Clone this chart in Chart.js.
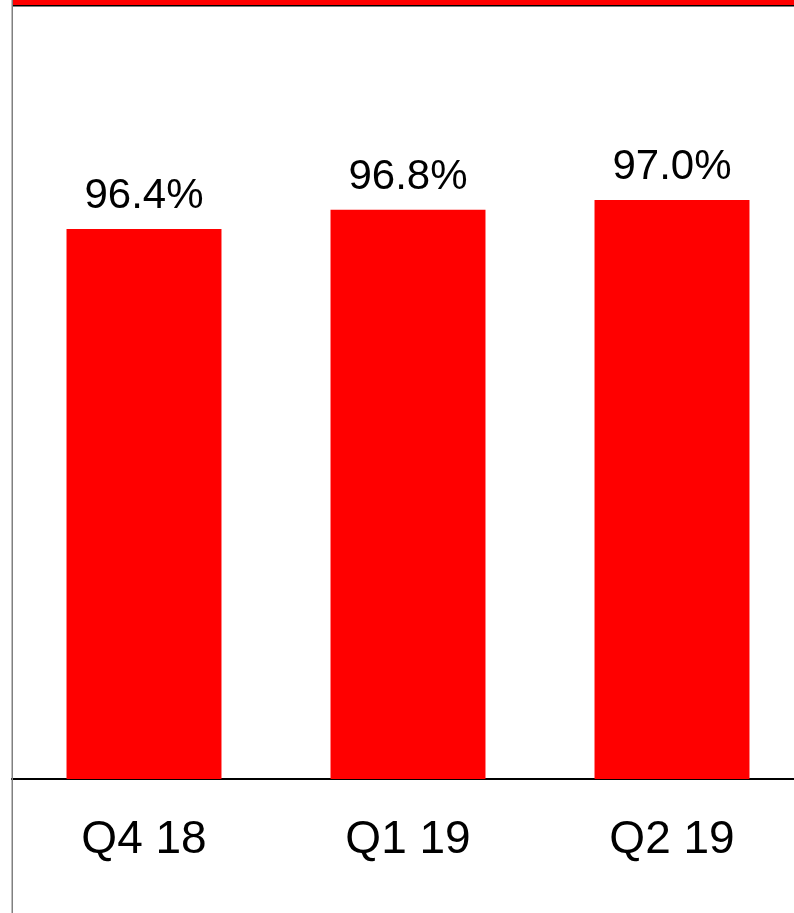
<!DOCTYPE html>
<html>
<head>
<meta charset="utf-8">
<script src="https://cdn.jsdelivr.net/npm/chart.js@4/dist/chart.umd.min.js"></script>
<style>
  html, body { margin: 0; padding: 0; background: #fff; overflow: hidden; width: 794px; height: 913px; }
  #wrap { position: absolute; left: 0; top: 0; width: 804px; height: 913px; }
</style>
</head>
<body>
<div id="wrap"><canvas id="c" width="804" height="913"></canvas></div>
<script>
const categories = ["Q4 18", "Q1 19", "Q2 19"];
const values = [96.4, 96.8, 97.0];
const valueLabels = ["96.4%", "96.8%", "97.0%"];
const yMin = 85;
const yMax = 101;

const decorPlugin = {
  id: 'decor',
  afterDraw(chart) {
    const ctx = chart.ctx;
    ctx.save();
    // top red band with black underline
    ctx.fillStyle = '#ff0000';
    ctx.fillRect(13, 0, chart.width - 13, 5);
    ctx.fillStyle = '#000000';
    ctx.fillRect(13, 5, chart.width - 13, 1.5);
    // left grey line
    ctx.fillStyle = '#808080';
    ctx.fillRect(11.5, 0, 1.5, chart.height);
    // value labels
    const meta = chart.getDatasetMeta(0);
    ctx.fillStyle = '#000';
    ctx.font = '42px "Liberation Sans", Arial, sans-serif';
    ctx.textAlign = 'center';
    ctx.textBaseline = 'alphabetic';
    meta.data.forEach((bar, i) => {
      ctx.fillText(valueLabels[i], bar.x, bar.y - 21);
    });
    ctx.restore();
  }
};

new Chart(document.getElementById('c'), {
  type: 'bar',
  data: {
    labels: categories,
    datasets: [{
      data: values,
      backgroundColor: '#ff0000',
      borderWidth: 0,
      categoryPercentage: 1,
      barPercentage: 0.587
    }]
  },
  options: {
    responsive: false,
    animation: false,
    devicePixelRatio: 1,
    layout: { padding: { top: 7, left: 12, right: 0, bottom: 0 } },
    plugins: { legend: { display: false }, tooltip: { enabled: false } },
    scales: {
      x: {
        grid: { display: false, drawTicks: false },
        border: { display: true, color: '#000', width: 2 },
        ticks: {
          color: '#000',
          padding: 34,
          font: { family: '"Liberation Sans", Arial, sans-serif', size: 46 }
        },
        afterFit(scale) { scale.height = 134; }
      },
      y: {
        display: false,
        min: yMin,
        max: yMax
      }
    }
  },
  plugins: [decorPlugin]
});
</script>
</body>
</html>
